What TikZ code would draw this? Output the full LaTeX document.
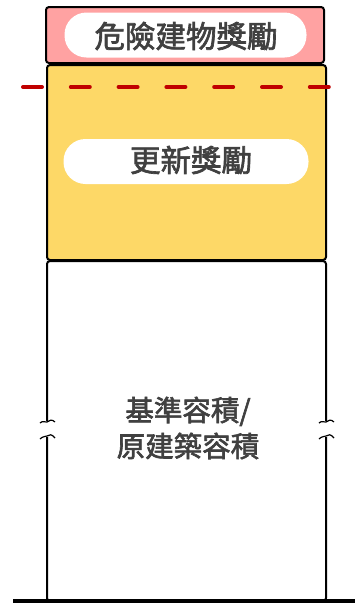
\documentclass[tikz,border=0pt]{standalone}
\usepackage{fontspec}
\newfontfamily\cjk[FakeBold=2.2]{Noto Sans CJK TC}
\definecolor{pinkfill}{RGB}{255,162,162}
\definecolor{yellowfill}{RGB}{253,216,103}
\definecolor{txtgray}{RGB}{64,64,64}
\definecolor{dashred}{RGB}{192,0,0}
\begin{document}
\begin{tikzpicture}[x=1pt,y=-1pt,
  boxline/.style={draw=black,line width=2pt,rounded corners=3pt},
  pill/.style={fill=white,rounded corners=22pt,minimum width=242pt,minimum height=45pt,inner sep=0pt},
  label/.style={text=txtgray,font=\cjk\fontsize{30.5}{36}\selectfont,inner sep=0pt},
  biglabel/.style={text=txtgray,font=\cjk\fontsize{28.5}{36}\selectfont,inner sep=0pt,align=center}]
\useasboundingbox (0,0) rectangle (355,606);
% red top box
\filldraw[boxline,fill=pinkfill] (46,7) rectangle (324,63);
\node[pill] (p1) at (185.5,35) {};
\node[label] (t1) at (186,36) {危險建物獎勵};
% yellow box
\filldraw[boxline,fill=yellowfill] (47,65) rectangle (326,260);
\node[pill,minimum width=245pt] (p2) at (186,161.5) {};
\node[label] (t2) at (191,160) {更新獎勵};
% dashed line
\coordinate (dl) at (23,87);
\coordinate (dr) at (330,87);
\draw[dashred,line width=4pt,line cap=round,dash pattern=on 19pt off 28.8pt] (dl) -- (dr);
% white base box with break marks
\draw[line width=2pt,rounded corners=3pt] (47,421) -- (47,261) -- (326,261) -- (326,421);
\draw[line width=2pt,rounded corners=3pt] (47,437) -- (47,601) -- (326,601) -- (326,437);
\draw[line width=1.2pt] (40,423) .. controls (43,420) and (45,423) .. (47,422) .. controls (49,420) and (52,419) .. (55,422);
\draw[line width=1.2pt] (40,439) .. controls (43,436) and (45,437) .. (47,436) .. controls (49,434) and (52,434) .. (55,438);
\draw[line width=1.2pt] (319,423) .. controls (322,420) and (324,423) .. (326,422) .. controls (328,420) and (331,419) .. (334,422);
\draw[line width=1.2pt] (319,439) .. controls (322,436) and (324,437) .. (326,436) .. controls (328,434) and (331,434) .. (334,438);
% baseline
\coordinate (bl) at (13,601);
\coordinate (br) at (355,601);
\draw[line width=3.5pt] (bl) -- (br);
\node[biglabel] (t3) at (188,428) {基準容積/\\原建築容積};
\end{tikzpicture}
\end{document}
